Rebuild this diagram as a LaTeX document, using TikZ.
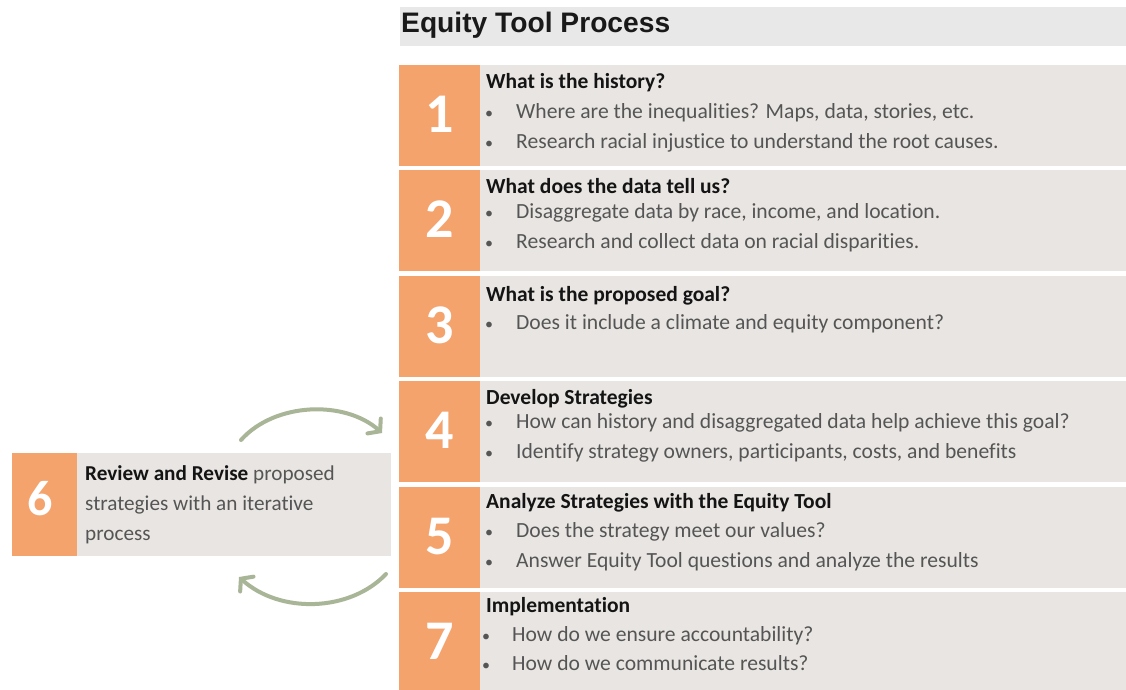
\documentclass[tikz,border=0pt]{standalone}
\usepackage{fontspec}
\setmainfont{Carlito}[RawFeature={-liga;-clig;-dlig;-calt}]
\newfontfamily\titlefont{Liberation Sans}
\usetikzlibrary{arrows.meta}
\definecolor{orng}{HTML}{F4A36C}
\definecolor{panel}{HTML}{E8E5E2}
\definecolor{band}{HTML}{E8E8E8}
\definecolor{txtg}{HTML}{555555}
\definecolor{arrowc}{HTML}{A9B597}
\tikzset{
  numbox/.style={fill=orng, draw=none, minimum width=81pt, minimum height=101pt, anchor=north west, inner sep=0pt, outer sep=0pt},
  panelbox/.style={fill=panel, draw=none, minimum width=646pt, minimum height=101pt, anchor=north west, inner sep=0pt, outer sep=0pt},
  numtxt/.style={text=white, font=\bfseries\fontsize{56}{56}\selectfont, inner sep=0pt},
  head/.style={anchor=base west, inner sep=0pt, text=black!92, font=\bfseries\fontsize{21.5}{24}\selectfont},
  bul/.style={anchor=base west, inner sep=0pt, text=txtg, font=\fontsize{21.6}{24}\selectfont},
  dot/.style={anchor=base west, inner sep=0pt, text=txtg, font=\fontsize{16}{20}\selectfont},
  cyc/.style={draw=arrowc, line width=4pt, line cap=round, -{Straight Barb[length=8pt,width=20pt,line cap=round]}}
}
\begin{document}
\begin{tikzpicture}[x=1pt,y=-1pt]
\path[use as bounding box, fill=white] (0,0) rectangle (1126,690);
% header
\node[fill=band, minimum width=726pt, minimum height=39pt, anchor=north west, inner sep=0pt] (hdr) at (400,7) {};
\node[anchor=base west, inner sep=0pt, font=\titlefont\bfseries\fontsize{28.2}{30}\selectfont, text=black!90] (title) at (401,33) {Equity Tool Process};
% rows
\foreach \i/\t/\d in {1/65/1,2/170/2,3/276/3,4/381/4,5/487/5,7/592/7}{
  \node[numbox] (o\i) at (399,\t) {};
  \node[panelbox] (p\i) at (480,\t) {};
  \node[numtxt] (n\i) at ([yshift=1pt]o\i.center) {\d};
}
% row 1
\node[head] (h1) at (486,89) {What is the history?};
\node[dot] (b1a) at (485,118) {•};
\node[bul] (t1a) at (516,118) {Where are the inequalities? Maps, data, stories, etc.};
\node[dot] (b1b) at (485,148) {•};
\node[bul] (t1b) at (516,148) {Research racial injustice to understand the root causes.};
% row 2
\node[head] (h2) at (486,193) {What does the data tell us?};
\node[dot] (b2a) at (485,218) {•};
\node[bul] (t2a) at (516,218) {Disaggregate data by race, income, and location.};
\node[dot] (b2b) at (485,248) {•};
\node[bul] (t2b) at (516,248) {Research and collect data on racial disparities.};
% row 3
\node[head] (h3) at (486,301) {What is the proposed goal?};
\node[dot] (b3a) at (485,329) {•};
\node[bul] (t3a) at (516,329) {Does it include a climate and equity component?};
% row 4
\node[head] (h4) at (486,404) {Develop Strategies};
\node[dot] (b4a) at (485,428) {•};
\node[bul] (t4a) at (516,428) {How can history and disaggregated data help achieve this goal?};
\node[dot] (b4b) at (485,458) {•};
\node[bul] (t4b) at (516,458) {Identify strategy owners, participants, costs, and benefits};
% row 5
\node[head] (h5) at (486,508) {Analyze Strategies with the Equity Tool};
\node[dot] (b5a) at (485,537) {•};
\node[bul] (t5a) at (516,537) {Does the strategy meet our values?};
\node[dot] (b5b) at (485,567) {•};
\node[bul] (t5b) at (516,567) {Answer Equity Tool questions and analyze the results};
% row 7
\node[head] (h7) at (486,612) {Implementation};
\node[dot] (b7a) at (482,641) {•};
\node[bul] (t7a) at (512,641) {How do we ensure accountability?};
\node[dot] (b7b) at (482,670) {•};
\node[bul] (t7b) at (512,670) {How do we communicate results?};
% box 6
\node[fill=orng, minimum width=65pt, minimum height=103pt, anchor=north west, inner sep=0pt, outer sep=0pt] (o6) at (12,453) {};
\node[fill=panel, minimum width=314pt, minimum height=103pt, anchor=north west, inner sep=0pt, outer sep=0pt] (p6) at (77,453) {};
\node[numtxt, font=\bfseries\fontsize{50}{50}\selectfont] (n6) at ([xshift=-4pt,yshift=6pt]o6.center) {6};
\node[bul, font=\fontsize{21.2}{30}\selectfont, align=left, anchor=north west] (t6) at (85,465)
  {\textcolor{black!92}{\bfseries Review and Revise} proposed\\strategies with an iterative\\process};
% cycle arrows
\coordinate (c1s) at (241,440);
\coordinate (c1e) at (382,433);
\coordinate (c2s) at (386,574);
\coordinate (c2e) at (239,577);
\draw[cyc] (c1s) .. controls (275,402) and (345,400) .. (c1e);
\draw[cyc] (c2s) .. controls (350,612) and (280,614) .. (c2e);
\end{tikzpicture}
\end{document}
